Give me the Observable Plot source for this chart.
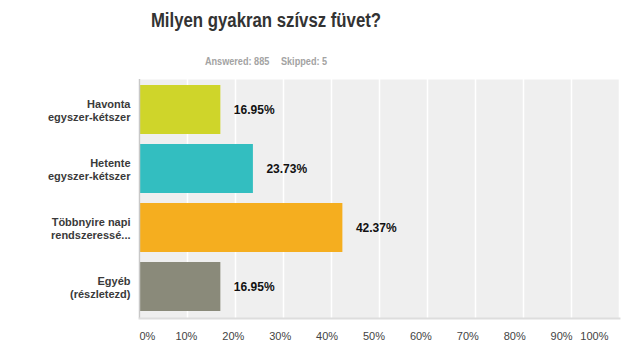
<!DOCTYPE html>
<html><head><meta charset="utf-8">
<script src="https://cdn.jsdelivr.net/npm/d3@7"></script>
<script src="https://cdn.jsdelivr.net/npm/@observablehq/plot@0.6"></script>
<style>
body{margin:0;background:#fff;font-family:"Liberation Sans",Arial,sans-serif;}
#wrap{position:relative;width:633px;height:362px;overflow:hidden;}
#title{position:absolute;left:0;top:11px;width:532px;text-align:center;font-size:19.5px;line-height:19.5px;font-weight:bold;color:#333;transform:scaleX(0.86);transform-origin:266px 0;white-space:nowrap;}
#sub{position:absolute;left:0;top:56px;width:532px;text-align:center;font-size:11px;line-height:11px;font-weight:bold;color:#a3a3a3;transform:scaleX(0.83);transform-origin:266px 0;white-space:nowrap;}
#sub span{margin-left:14px;}
#chart{position:absolute;left:0;top:70px;}
</style>
</head><body>
<div id="wrap">
  <div id="title">Milyen gyakran szívsz füvet?</div>
  <div id="sub">Answered: 885<span>Skipped: 5</span></div>
  <div id="chart"></div>
</div>
<script>
const categories = ["Havonta\negyszer-kétszer", "Hetente\negyszer-kétszer", "Többnyire napi\nrendszeressé...", "Egyéb\n(részletezd)"];
const values = [16.95, 23.73, 42.37, 16.95];
const barColors = ["#cfd52a", "#33bec0", "#f5ae1f", "#8a8a7a"];
const xTicks = [0, 10, 20, 30, 40, 50, 60, 70, 80, 90, 100];

const data = categories.map((c, i) => ({cat: c, value: values[i]}));
const fmt = d => d + "%";
const tickStyle = {label: null, tickSize: 0, tickPadding: 14, tickFormat: fmt, fontSize: 11, fill: "#444"};

const chart = Plot.plot({
  width: 633,
  height: 292,
  marginTop: 9,
  marginBottom: 44,
  marginLeft: 139,
  marginRight: 14,
  style: {fontFamily: "Liberation Sans, Arial, sans-serif", background: "transparent"},
  x: {domain: [0, 100], axis: null, label: null},
  y: {domain: categories, paddingInner: 1/6, paddingOuter: 1/12, axis: null, label: null},
  color: {domain: categories, range: barColors},
  marks: [
    Plot.frame({fill: "#efefef", stroke: null}),
    Plot.gridX(xTicks, {stroke: "#ffffff", strokeOpacity: 1, strokeWidth: 1.5}),
    Plot.barX(data, {x: "value", y: "cat", fill: "cat"}),
    Plot.ruleX([0], {stroke: "#c8c8c8", strokeWidth: 1.5}),
    Plot.frame({anchor: "bottom", stroke: "#dddddd", strokeWidth: 2}),
    Plot.text(data, {x: "value", y: "cat", text: d => d.value.toFixed(2) + "%", dx: 13, textAnchor: "start", fontWeight: "bold", fontSize: 12, fill: "#111"}),
    Plot.text(data, {y: "cat", text: "cat", frameAnchor: "left", dx: -9, textAnchor: "end", lineHeight: 1.18, fontSize: 11, fontWeight: "bold", fill: "#3a3a3a"}),
    Plot.axisX([xTicks[0]], {...tickStyle, textAnchor: "start"}),
    ...xTicks.slice(1, -1).map(t => Plot.axisX([t], {...tickStyle, dx: -t * 0.11})),
    Plot.axisX([xTicks[xTicks.length - 1]], {...tickStyle, textAnchor: "end", dx: -11})
  ]
});
document.getElementById("chart").appendChild(chart);
</script>
</body></html>
